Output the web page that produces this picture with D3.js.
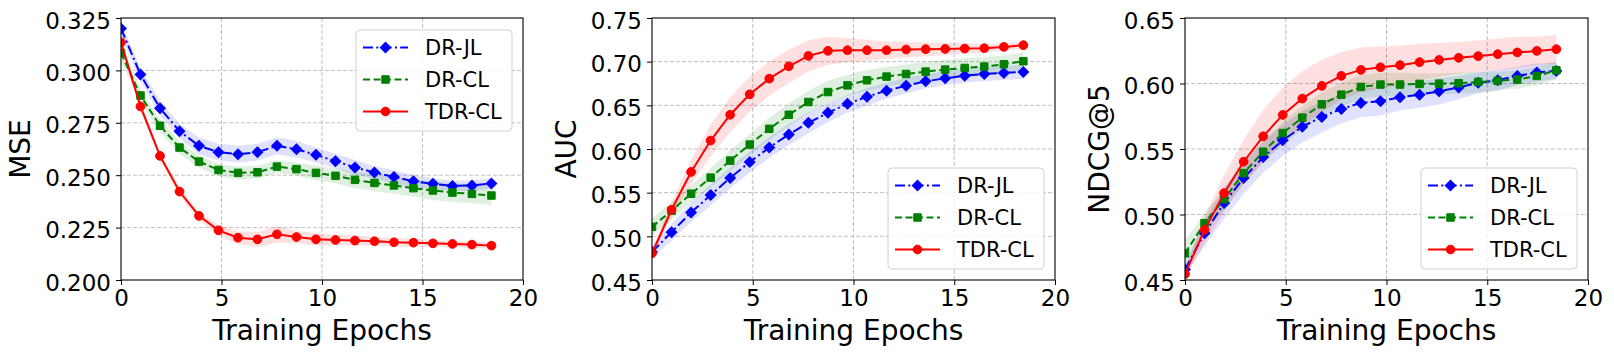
<!DOCTYPE html>
<html>
<head>
<meta charset="utf-8">
<script src="https://cdn.jsdelivr.net/npm/d3@7"></script>
<style>
  body { margin: 0; background: #fff; }
  svg { display: block; font-family: "DejaVu Sans", sans-serif; }
</style>
</head>
<body>
<div id="chart"></div>
<script>
// x positions of the logged points (training epochs)
const epochs = [0, 0.97, 1.94, 2.91, 3.88, 4.85, 5.82, 6.79, 7.76, 8.73, 9.70, 10.67, 11.64, 12.61, 13.58, 14.55, 15.52, 16.49, 17.46, 18.43];
const xTicks = [0, 5, 10, 15, 20];

const methods = ['DR-JL', 'DR-CL', 'TDR-CL'];

// MSE
const mseTicks = [0.200, 0.225, 0.250, 0.275, 0.300, 0.325];
const mseDRJL = [0.3200, 0.2980, 0.2820, 0.2710, 0.2640, 0.2610, 0.2600, 0.2610, 0.2640, 0.2624, 0.2597, 0.2567, 0.2537, 0.2513, 0.2492, 0.2471, 0.2459, 0.2449, 0.2451, 0.2460];
const mseDRCL = [0.3083, 0.2880, 0.2736, 0.2632, 0.2565, 0.2525, 0.2511, 0.2514, 0.2541, 0.2529, 0.2511, 0.2497, 0.2478, 0.2463, 0.2451, 0.2438, 0.2427, 0.2417, 0.2411, 0.2403];
const mseTDRCL = [0.3134, 0.2828, 0.2592, 0.2422, 0.2306, 0.2237, 0.2202, 0.2194, 0.2218, 0.2205, 0.2194, 0.2191, 0.2188, 0.2185, 0.2180, 0.2178, 0.2175, 0.2172, 0.2169, 0.2164];
const mseStdDRJL = [0.003, 0.003, 0.0035, 0.0035, 0.004, 0.004, 0.004, 0.004, 0.004, 0.004, 0.0035, 0.0035, 0.0035, 0.003, 0.003, 0.003, 0.0025, 0.0025, 0.0025, 0.0025];
const mseStdDRCL = [0.004, 0.003, 0.003, 0.003, 0.003, 0.003, 0.003, 0.003, 0.003, 0.003, 0.0035, 0.0035, 0.004, 0.004, 0.004, 0.004, 0.0045, 0.0045, 0.0045, 0.0045];
const mseStdTDRCL = [0.002, 0.002, 0.002, 0.002, 0.002, 0.0025, 0.003, 0.0035, 0.004, 0.003, 0.003, 0.0025, 0.0025, 0.002, 0.002, 0.002, 0.0015, 0.0015, 0.0015, 0.0015];

// AUC
const aucTicks = [0.45, 0.50, 0.55, 0.60, 0.65, 0.70, 0.75];
const aucDRJL = [0.4820, 0.5048, 0.5274, 0.5473, 0.5668, 0.5852, 0.6017, 0.6166, 0.6300, 0.6415, 0.6518, 0.6599, 0.6668, 0.6725, 0.6775, 0.6809, 0.6840, 0.6859, 0.6871, 0.6882];
const aucDRCL = [0.5109, 0.5293, 0.5488, 0.5672, 0.5867, 0.6051, 0.6231, 0.6392, 0.6538, 0.6652, 0.6729, 0.6787, 0.6829, 0.6859, 0.6886, 0.6909, 0.6928, 0.6944, 0.6970, 0.7005];
const aucTDRCL = [0.4806, 0.5304, 0.5737, 0.6097, 0.6392, 0.6626, 0.6806, 0.6947, 0.7066, 0.7124, 0.7131, 0.7131, 0.7131, 0.7139, 0.7143, 0.7146, 0.7150, 0.7154, 0.7169, 0.7189];
const aucStdDRJL = [0.006, 0.010, 0.011, 0.012, 0.012, 0.012, 0.012, 0.012, 0.012, 0.011, 0.010, 0.010, 0.009, 0.009, 0.008, 0.008, 0.008, 0.008, 0.008, 0.008];
const aucStdDRCL = [0.010, 0.010, 0.010, 0.011, 0.012, 0.012, 0.013, 0.013, 0.013, 0.013, 0.012, 0.012, 0.011, 0.011, 0.011, 0.011, 0.011, 0.011, 0.010, 0.010];
const aucStdTDRCL = [0.004, 0.008, 0.014, 0.018, 0.020, 0.020, 0.020, 0.019, 0.018, 0.016, 0.014, 0.012, 0.010, 0.009, 0.008, 0.007, 0.006, 0.005, 0.004, 0.004];

// NDCG@5
const ndcgTicks = [0.45, 0.50, 0.55, 0.60, 0.65];
const ndcgDRJL = [0.4580, 0.4857, 0.5087, 0.5278, 0.5438, 0.5566, 0.5670, 0.5745, 0.5806, 0.5852, 0.5865, 0.5895, 0.5915, 0.5940, 0.5970, 0.6005, 0.6025, 0.6058, 0.6084, 0.6096];
const ndcgDRCL = [0.4704, 0.4934, 0.5117, 0.5316, 0.5479, 0.5622, 0.5739, 0.5841, 0.5915, 0.5974, 0.5992, 0.5992, 0.5997, 0.5999, 0.6002, 0.6012, 0.6020, 0.6030, 0.6058, 0.6101];
const ndcgTDRCL = [0.4546, 0.4883, 0.5163, 0.5403, 0.5597, 0.5760, 0.5885, 0.5982, 0.6058, 0.6104, 0.6124, 0.6140, 0.6163, 0.6180, 0.6196, 0.6209, 0.6224, 0.6237, 0.6249, 0.6262];
const ndcgStdDRJL = [0.004, 0.010, 0.012, 0.012, 0.012, 0.012, 0.012, 0.012, 0.011, 0.011, 0.011, 0.010, 0.010, 0.010, 0.009, 0.008, 0.008, 0.007, 0.007, 0.006];
const ndcgStdDRCL = [0.010, 0.008, 0.008, 0.008, 0.008, 0.009, 0.009, 0.009, 0.009, 0.009, 0.009, 0.009, 0.008, 0.008, 0.008, 0.008, 0.007, 0.007, 0.007, 0.007];
const ndcgStdTDRCL = [0.003, 0.010, 0.014, 0.017, 0.020, 0.021, 0.021, 0.020, 0.018, 0.017, 0.016, 0.015, 0.014, 0.013, 0.012, 0.012, 0.012, 0.012, 0.011, 0.011];

const styles = {
  'DR-JL':  {color: '#0000ff', dash: '10,3.3,2,3.3', marker: 'diamond'},
  'DR-CL':  {color: '#008000', dash: '7,3.5', marker: 'square'},
  'TDR-CL': {color: '#ff0000', dash: null, marker: 'circle'}
};

const width = 1614, height = 356;
const margin = {top: 18, bottom: 280};

const panels = [
  {left: 121, right: 523, domain: [0.2, 0.325], ticks: mseTicks, fmt: '.3f', label: 'MSE', legend: 'top',
   means: [mseDRJL, mseDRCL, mseTDRCL], stds: [mseStdDRJL, mseStdDRCL, mseStdTDRCL]},
  {left: 652, right: 1055, domain: [0.45, 0.75], ticks: aucTicks, fmt: '.2f', label: 'AUC', legend: 'bottom',
   means: [aucDRJL, aucDRCL, aucTDRCL], stds: [aucStdDRJL, aucStdDRCL, aucStdTDRCL]},
  {left: 1185, right: 1588, domain: [0.45, 0.65], ticks: ndcgTicks, fmt: '.2f', label: 'NDCG@5', legend: 'bottom',
   means: [ndcgDRJL, ndcgDRCL, ndcgTDRCL], stds: [ndcgStdDRJL, ndcgStdDRCL, ndcgStdTDRCL]}
];

const svg = d3.select('#chart').append('svg')
    .attr('width', width)
    .attr('height', height);

function markerPath(type) {
  if (type === 'diamond') return d3.symbol().type(d3.symbolSquare).size(56)();
  if (type === 'square') return d3.symbol().type(d3.symbolSquare).size(56)();
  return d3.symbol().type(d3.symbolCircle).size(60)();
}

function drawMarker(g, type, color, x, y) {
  g.append('path')
      .attr('d', markerPath(type))
      .attr('transform', `translate(${x},${y})` + (type === 'diamond' ? ' rotate(45)' : ''))
      .attr('fill', color)
      .attr('stroke', color)
      .attr('stroke-width', 1);
}

panels.forEach((p, pi) => {
  const x = d3.scaleLinear().domain([0, 20]).range([p.left, p.right]);
  const y = d3.scaleLinear().domain(p.domain).range([margin.bottom, margin.top]);

  const g = svg.append('g');

  // grid
  g.append('g').selectAll('line.gx')
      .data(xTicks.slice(1, -1))
    .join('line')
      .attr('x1', d => x(d)).attr('x2', d => x(d))
      .attr('y1', margin.top).attr('y2', margin.bottom)
      .attr('stroke', '#b0b0b0').attr('stroke-width', 0.8)
      .attr('stroke-dasharray', '4,2');
  g.append('g').selectAll('line.gy')
      .data(p.ticks.slice(1, -1))
    .join('line')
      .attr('y1', d => y(d)).attr('y2', d => y(d))
      .attr('x1', p.left).attr('x2', p.right)
      .attr('stroke', '#b0b0b0').attr('stroke-width', 0.8)
      .attr('stroke-dasharray', '4,2');

  // clip to plotting area
  const clipId = 'clip' + pi;
  svg.append('clipPath').attr('id', clipId)
    .append('rect')
      .attr('x', p.left).attr('y', margin.top)
      .attr('width', p.right - p.left).attr('height', margin.bottom - margin.top);

  const plot = g.append('g').attr('clip-path', `url(#${clipId})`);

  // bands first
  methods.forEach((m, i) => {
    const pts = epochs.map((e, k) => ({x: e, m: p.means[i][k], s: p.stds[i][k]}));
    const area = d3.area()
        .x(d => x(d.x))
        .y0(d => y(d.m - d.s))
        .y1(d => y(d.m + d.s));
    plot.append('path')
        .datum(pts)
        .attr('d', area)
        .attr('fill', styles[m].color)
        .attr('fill-opacity', 0.12);
  });

  // lines and markers
  methods.forEach((m, i) => {
    const st = styles[m];
    const pts = epochs.map((e, k) => ({x: e, m: p.means[i][k]}));
    const line = d3.line().x(d => x(d.x)).y(d => y(d.m));
    plot.append('path')
        .datum(pts)
        .attr('d', line)
        .attr('fill', 'none')
        .attr('stroke', st.color)
        .attr('stroke-width', 2)
        .attr('stroke-dasharray', st.dash);
    pts.forEach(d => drawMarker(plot, st.marker, st.color, x(d.x), y(d.m)));
  });

  // spines
  g.append('rect')
      .attr('x', p.left).attr('y', margin.top)
      .attr('width', p.right - p.left).attr('height', margin.bottom - margin.top)
      .attr('fill', 'none').attr('stroke', '#000').attr('stroke-width', 1.1);

  // x axis
  const xAxis = g.append('g')
      .attr('transform', `translate(0,${margin.bottom})`)
      .call(d3.axisBottom(x).tickValues(xTicks).tickSize(5).tickPadding(5).tickFormat(d3.format('d')));
  xAxis.select('.domain').remove();
  xAxis.selectAll('text').attr('font-size', 23).attr('font-family', 'DejaVu Sans').attr('fill', '#000');
  xAxis.selectAll('line').attr('stroke', '#000');

  // y axis
  const yAxis = g.append('g')
      .attr('transform', `translate(${p.left},0)`)
      .call(d3.axisLeft(y).tickValues(p.ticks).tickSize(5).tickPadding(5).tickFormat(d3.format(p.fmt)));
  yAxis.select('.domain').remove();
  yAxis.selectAll('text')
      .attr('font-size', 23).attr('font-family', 'DejaVu Sans').attr('fill', '#000')
      .attr('dy', null)
      .attr('y', 10);
  yAxis.selectAll('line').attr('stroke', '#000');

  let maxW = 0;
  yAxis.selectAll('text').each(function() { maxW = Math.max(maxW, this.getBBox().width); });

  // axis titles
  g.append('text')
      .attr('x', (p.left + p.right) / 2)
      .attr('y', 340)
      .attr('text-anchor', 'middle')
      .attr('font-size', 28)
      .text('Training Epochs');

  const lx = p.left - 10 - maxW - 15;
  g.append('text')
      .attr('transform', `translate(${lx},${(margin.top + margin.bottom) / 2}) rotate(-90)`)
      .attr('text-anchor', 'middle')
      .attr('font-size', 28)
      .text(p.label);

  // legend
  const lw = 156, lh = 101;
  const lxBox = p.right - 11 - lw;
  const lyBox = p.legend === 'top' ? margin.top + 12 : margin.bottom - 11 - lh;
  const leg = g.append('g').attr('transform', `translate(${lxBox},${lyBox})`);
  leg.append('rect')
      .attr('width', lw).attr('height', lh)
      .attr('rx', 4)
      .attr('fill', '#fff').attr('fill-opacity', 0.8)
      .attr('stroke', '#d0d0d0').attr('stroke-width', 1);
  methods.forEach((m, i) => {
    const st = styles[m];
    const ry = 17.5 + i * 32;
    leg.append('line')
        .attr('x1', 7).attr('x2', 52)
        .attr('y1', ry).attr('y2', ry)
        .attr('stroke', st.color).attr('stroke-width', 2)
        .attr('stroke-dasharray', st.dash);
    drawMarker(leg, st.marker, st.color, 29.5, ry);
    leg.append('text')
        .attr('x', 69).attr('y', ry + 7.5)
        .attr('font-size', 21)
        .text(m);
  });
});
</script>
</body>
</html>
